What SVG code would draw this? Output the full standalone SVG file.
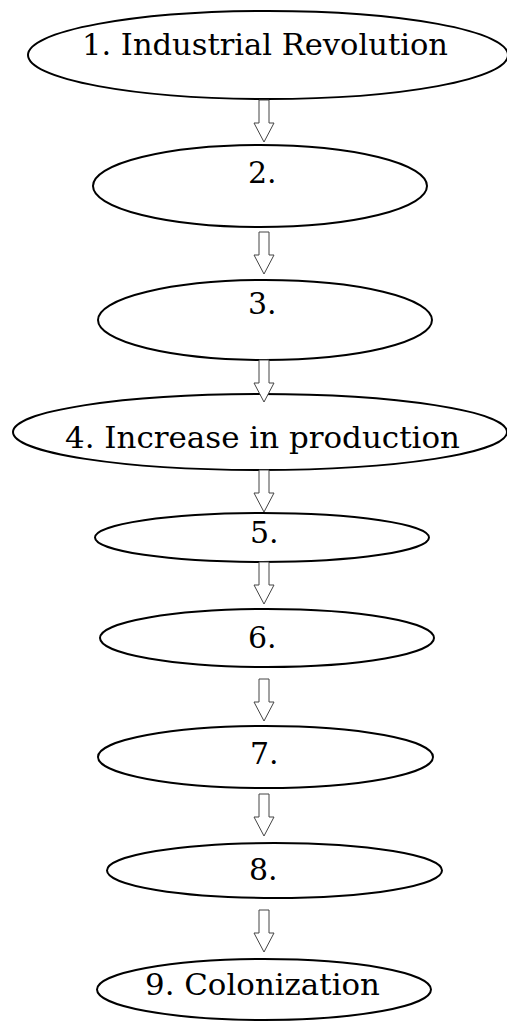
<svg xmlns="http://www.w3.org/2000/svg" width="507" height="1023" viewBox="0 0 507 1023">
<style>
.n{fill:#fff;stroke:#000;stroke-width:2}
.t{font-family:"DejaVu Serif","Liberation Serif",serif;font-size:30px;fill:#000}
.a{fill:#fff;stroke:#444;stroke-width:1}
</style>
<defs>
<path id="arr" d="M-5,0 H5 V23 H10 L0,42 L-10,23 H-5 Z"/>
</defs>
<rect width="507" height="1023" fill="#fff"/>
<g id="n1"><ellipse class="n" cx="268" cy="55" rx="240" ry="44"/><text class="t" x="82" y="55" textLength="366" lengthAdjust="spacingAndGlyphs">1. Industrial Revolution</text></g>
<g id="n2"><ellipse class="n" cx="260" cy="186" rx="167" ry="41"/><text class="t" x="248" y="183">2.</text></g>
<g id="n3"><ellipse class="n" cx="265" cy="320" rx="167" ry="40"/><text class="t" x="248" y="314">3.</text></g>
<g id="n4"><ellipse class="n" cx="260" cy="432" rx="247" ry="38"/><text class="t" x="65" y="448" textLength="395" lengthAdjust="spacingAndGlyphs">4. Increase in production</text></g>
<g id="n5"><ellipse class="n" cx="262" cy="537.5" rx="167" ry="24.5"/><text class="t" x="250" y="543">5.</text></g>
<g id="n6"><ellipse class="n" cx="267" cy="638" rx="167" ry="29"/><text class="t" x="248" y="648">6.</text></g>
<g id="n7"><ellipse class="n" cx="265.5" cy="757" rx="167.5" ry="31"/><text class="t" x="250" y="764">7.</text></g>
<g id="n8"><ellipse class="n" cx="274.5" cy="870.5" rx="167.5" ry="27.5"/><text class="t" x="249" y="880">8.</text></g>
<g id="n9"><ellipse class="n" cx="264" cy="989.5" rx="167" ry="30.5"/><text class="t" x="145" y="995" textLength="235" lengthAdjust="spacingAndGlyphs">9. Colonization</text></g>
<g id="connectors">
<use href="#arr" class="a" x="264" y="100"/>
<use href="#arr" class="a" x="264" y="232"/>
<use href="#arr" class="a" x="264" y="360"/>
<use href="#arr" class="a" x="264" y="470"/>
<use href="#arr" class="a" x="264" y="562"/>
<use href="#arr" class="a" x="264" y="679"/>
<use href="#arr" class="a" x="264" y="794"/>
<use href="#arr" class="a" x="264" y="910"/>
</g>
</svg>
